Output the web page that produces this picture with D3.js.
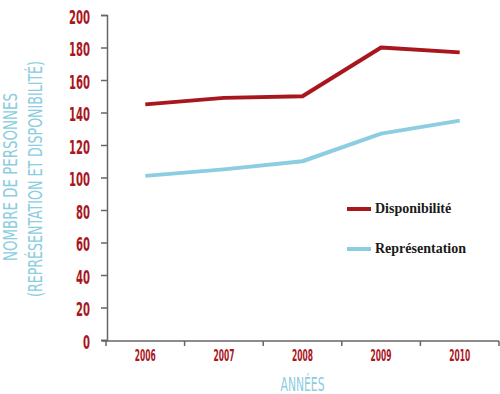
<!DOCTYPE html>
<html>
<head>
<meta charset="utf-8">
<script src="https://cdn.jsdelivr.net/npm/d3@7"></script>
<style>
  body { margin: 0; background: #fff; }
  .narrow { font-family: 'Liberation Sans Narrow', 'DejaVu Sans Condensed', 'Roboto Condensed', 'Liberation Sans', sans-serif; }
</style>
</head>
<body>
<div id="chart"></div>
<script>
const years = ['2006', '2007', '2008', '2009', '2010'];
const disponibilite = [145, 149, 150, 180, 177];
const representation = [101, 105, 110, 127, 135];
const yTicks = [0, 20, 40, 60, 80, 100, 120, 140, 160, 180, 200];
const seriesNames = ['Disponibilité', 'Représentation'];
const yTitle = ['NOMBRE DE PERSONNES', '(REPRÉSENTATION ET DISPONIBILITÉ)'];
const xTitle = 'ANNÉES';

const red = '#a8161e';
const blue = '#8ccde0';
const axisColor = '#666';

const width = 500;
const height = 394;

const svg = d3
  .select('#chart')
  .append('svg')
  .attr('width', width)
  .attr('height', height);

const x = d3.scaleBand().domain(years).range([106, 499]);
const y = d3.scaleLinear().domain([0, 200]).range([340, 15]);
const cx = (d) => x(d) + x.bandwidth() / 2;

// y axis
const yAxis = svg
  .append('g')
  .attr('transform', 'translate(107,0)')
  .call(d3.axisLeft(y).tickValues(yTicks).tickSize(6).tickPadding(11));

yAxis.selectAll('path, line').attr('stroke', axisColor).attr('stroke-width', 1.5);
yAxis
  .selectAll('text')
  .attr('class', 'narrow')
  .attr('fill', red)
  .attr('font-size', 20)
  .attr('font-weight', 'bold')
  .attr('dy', '0.42em')
  .attr('textLength', (d) => String(d).length * 7)
  .attr('lengthAdjust', 'spacingAndGlyphs');

// x axis
const xAxis = svg
  .append('g')
  .attr('transform', 'translate(0,341)')
  .call(d3.axisBottom(x).tickSize(0).tickPadding(9));

xAxis.select('.domain').remove();
xAxis
  .selectAll('text')
  .attr('class', 'narrow')
  .attr('fill', red)
  .attr('font-size', 16)
  .attr('font-weight', 'bold')
  .attr('textLength', 21)
  .attr('lengthAdjust', 'spacingAndGlyphs');

xAxis
  .append('line')
  .attr('x1', x.range()[0] - 4)
  .attr('x2', x.range()[1])
  .attr('stroke', axisColor)
  .attr('stroke-width', 1.5);

xAxis
  .selectAll('line.edge')
  .data(years.map((d) => x(d)).concat([x.range()[1]]))
  .enter()
  .append('line')
  .attr('class', 'edge')
  .attr('x1', (d) => d)
  .attr('x2', (d) => d)
  .attr('y1', 0)
  .attr('y2', 5)
  .attr('stroke', axisColor)
  .attr('stroke-width', 1.5);

// axis titles
svg
  .selectAll('text.ytitle')
  .data(yTitle)
  .enter()
  .append('text')
  .attr('class', 'narrow')
  .attr('transform', (d, i) => (i === 0 ? 'translate(17,177) rotate(-90)' : 'translate(42,179) rotate(-90)'))
  .attr('text-anchor', 'middle')
  .attr('fill', blue)
  .attr('font-size', 19)
  .attr('textLength', (d, i) => (i === 0 ? 168 : 236))
  .attr('lengthAdjust', 'spacingAndGlyphs')
  .text((d) => d);

svg
  .append('text')
  .attr('class', 'narrow')
  .attr('x', (x.range()[0] + x.range()[1]) / 2)
  .attr('y', 391)
  .attr('text-anchor', 'middle')
  .attr('fill', blue)
  .attr('font-size', 20)
  .attr('textLength', 44)
  .attr('lengthAdjust', 'spacingAndGlyphs')
  .text(xTitle);

// lines
const line = d3
  .line()
  .x((d, i) => cx(years[i]))
  .y((d) => y(d));

svg
  .append('path')
  .datum(representation)
  .attr('fill', 'none')
  .attr('stroke', blue)
  .attr('stroke-width', 4)
  .attr('stroke-linejoin', 'round')
  .attr('d', line);

svg
  .append('path')
  .datum(disponibilite)
  .attr('fill', 'none')
  .attr('stroke', red)
  .attr('stroke-width', 4)
  .attr('stroke-linejoin', 'round')
  .attr('d', line);

// legend
const legend = svg.append('g').attr('transform', 'translate(347,209)');
const colors = [red, blue];

seriesNames.forEach((name, i) => {
  legend
    .append('line')
    .attr('x1', 0)
    .attr('x2', 24)
    .attr('y1', i * 40)
    .attr('y2', i * 40)
    .attr('stroke', colors[i])
    .attr('stroke-width', 4);

  legend
    .append('text')
    .attr('x', 28)
    .attr('y', i * 40 + 4)
    .attr('fill', '#1a1a1a')
    .style('font-family', "'Liberation Serif', 'DejaVu Serif', serif")
    .style('font-size', '14px')
    .style('font-weight', 'bold')
    .text(name);
});
</script>
</body>
</html>
